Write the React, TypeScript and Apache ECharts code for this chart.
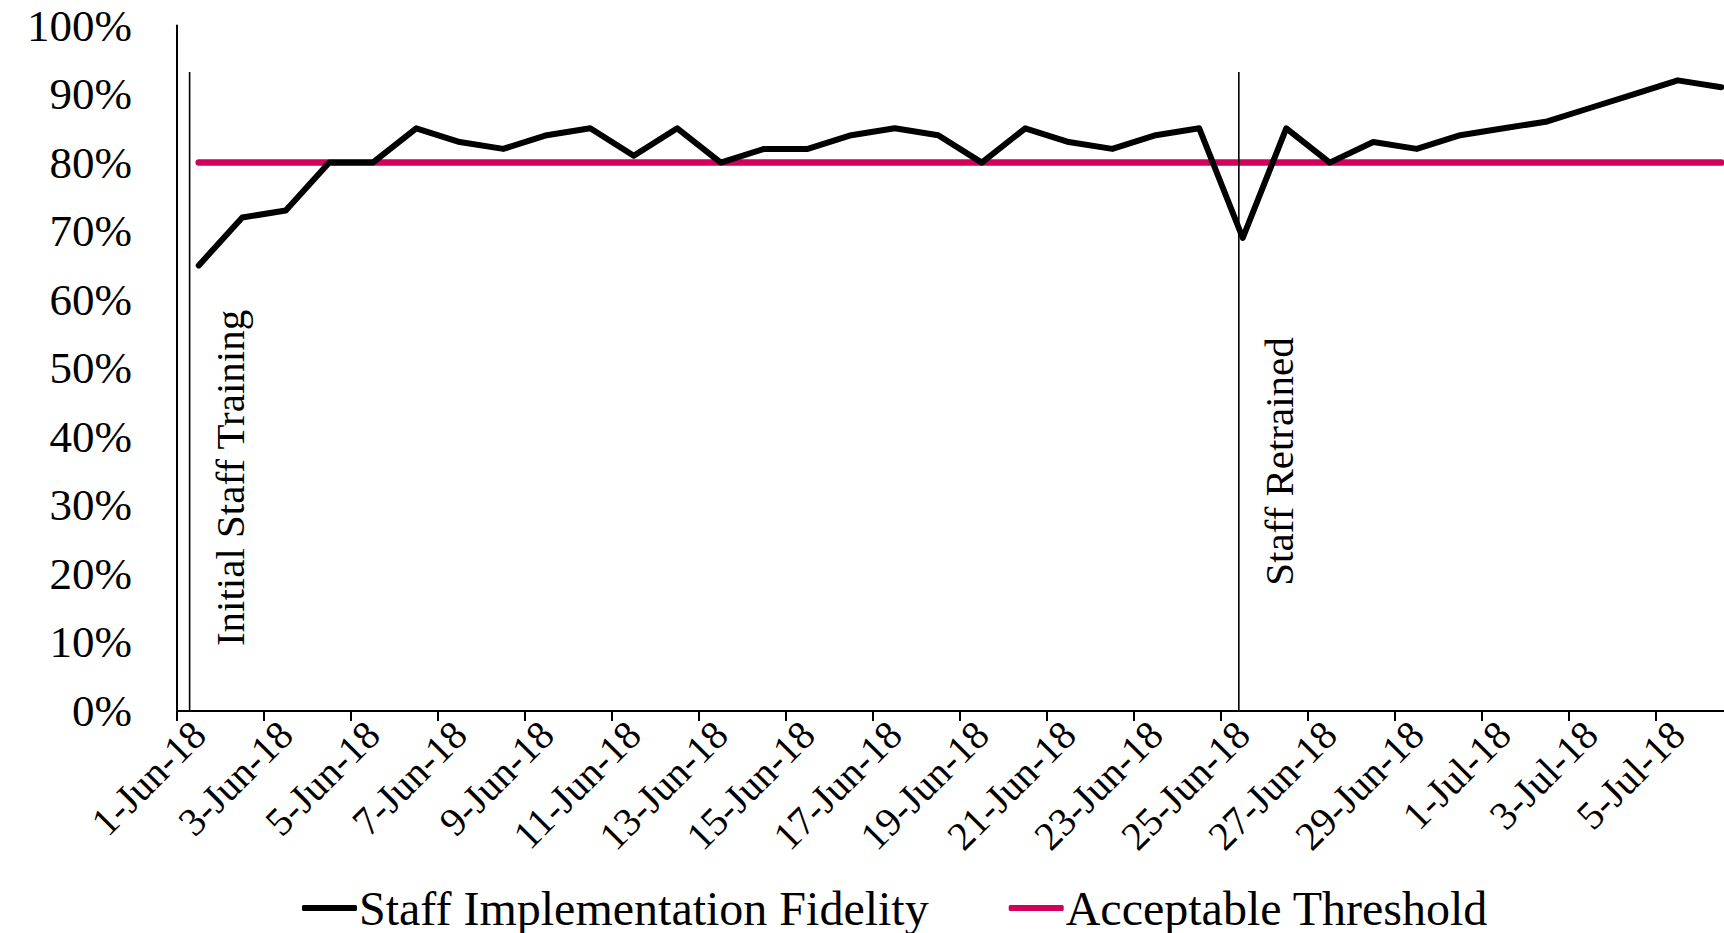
import React, { useEffect, useRef } from "react";
import * as echarts from "echarts";

const dates = [
  "1-Jun-18", "2-Jun-18", "3-Jun-18", "4-Jun-18", "5-Jun-18", "6-Jun-18",
  "7-Jun-18", "8-Jun-18", "9-Jun-18", "10-Jun-18", "11-Jun-18", "12-Jun-18",
  "13-Jun-18", "14-Jun-18", "15-Jun-18", "16-Jun-18", "17-Jun-18", "18-Jun-18",
  "19-Jun-18", "20-Jun-18", "21-Jun-18", "22-Jun-18", "23-Jun-18", "24-Jun-18",
  "25-Jun-18", "26-Jun-18", "27-Jun-18", "28-Jun-18", "29-Jun-18", "30-Jun-18",
  "1-Jul-18", "2-Jul-18", "3-Jul-18", "4-Jul-18", "5-Jul-18", "6-Jul-18",
];

const fidelity = [
  65, 72, 73, 80, 80, 85, 83, 82, 84, 85, 81, 85,
  80, 82, 82, 84, 85, 84, 80, 85, 83, 82, 84, 85,
  69, 85, 80, 83, 82, 84, 85, 86, 88, 90, 92, 91,
];

const threshold = [
  80, 80, 80, 80, 80, 80, 80, 80, 80, 80, 80, 80,
  80, 80, 80, 80, 80, 80, 80, 80, 80, 80, 80, 80,
  80, 80, 80, 80, 80, 80, 80, 80, 80, 80, 80, 80,
];

const seriesNames = ["Staff Implementation Fidelity", "Acceptable Threshold"];

// event markers: day offset on the date axis, top of line (%), label centre (%)
const markers = [
  { label: "Initial Staff Training", day: 0.29, top: 93.2, labelAt: 34.0 },
  { label: "Staff Retrained", day: 24.41, top: 93.2, labelAt: 36.4 },
];

const yMin = 0;
const yMax = 100;
const yStep = 10;

const FONT = "'Liberation Serif', 'Times New Roman', serif";

export default function App() {
  const ref = useRef<HTMLDivElement>(null);

  useEffect(() => {
    if (!ref.current) return;
    const chart = echarts.init(ref.current, null, { renderer: "svg" });
    const option: any = {
      animation: false,
      backgroundColor: "#ffffff",
      textStyle: { fontFamily: FONT, color: "#000" },
      grid: {
        left: 177,
        right: -19,
        top: 25.5,
        bottom: 222,
        containLabel: false,
        outerBoundsMode: "none",
      },
      legend: {
        left: 297,
        top: 879,
        itemWidth: 55,
        itemHeight: 6,
        itemGap: 80,
        icon: "roundRect",
        textStyle: { fontFamily: FONT, fontSize: 48, color: "#000", padding: [0, 0, 0, -3] },
        data: seriesNames,
      },
      xAxis: [
        {
          type: "category",
          data: dates,
          boundaryGap: true,
          axisLine: { show: true, lineStyle: { color: "#000", width: 2 } },
          axisTick: { show: true, interval: 1, length: 10, lineStyle: { color: "#000", width: 2 } },
          axisLabel: {
            interval: 1,
            rotate: 45,
            margin: 17,
            fontFamily: FONT,
            fontSize: 40,
            color: "#000",
          },
          splitLine: { show: false },
        },
        {
          type: "value",
          min: 0,
          max: dates.length,
          show: false,
          gridIndex: 0,
        },
      ],
      yAxis: {
        type: "value",
        min: yMin,
        max: yMax,
        interval: yStep,
        axisLine: { show: true, lineStyle: { color: "#000", width: 2 } },
        axisTick: { show: false },
        splitLine: { show: false },
        axisLabel: {
          formatter: "{value}%",
          margin: 45,
          fontFamily: FONT,
          fontSize: 45,
          lineHeight: 44,
          color: "#000",
        },
      },
      series: [
        {
          name: seriesNames[0],
          type: "line",
          data: fidelity,
          showSymbol: false,
          symbol: "none",
          color: "#000000",
          lineStyle: { color: "#000000", width: 6, cap: "round", join: "round" },
          z: 3,
        },
        {
          name: seriesNames[1],
          type: "line",
          data: threshold,
          showSymbol: false,
          symbol: "none",
          color: "#D1005A",
          lineStyle: { color: "#D1005A", width: 6.5, cap: "round", join: "round" },
          z: 2,
        },
      ],
    };
    chart.setOption(option);

    const y0 = chart.convertToPixel({ yAxisIndex: 0 }, yMin) as number;
    const graphics: any[] = [];
    markers.forEach((m) => {
      const x = chart.convertToPixel({ xAxisIndex: 1 }, m.day) as number;
      const yTop = chart.convertToPixel({ yAxisIndex: 0 }, m.top) as number;
      const yc = chart.convertToPixel({ yAxisIndex: 0 }, m.labelAt) as number;
      graphics.push({
        type: "line",
        shape: { x1: x, y1: y0, x2: x, y2: yTop },
        style: { stroke: "#000", lineWidth: 1.6 },
        z: 10,
      });
      graphics.push({
        type: "text",
        x: x + 20,
        y: yc,
        rotation: Math.PI / 2,
        style: {
          text: m.label,
          fontFamily: FONT,
          fontSize: 41,
          fill: "#000",
          align: "center",
          verticalAlign: "top",
        },
        z: 10,
      });
    });
    chart.setOption({ graphic: graphics });

    return () => {
      chart.dispose();
    };
  }, []);

  return (
    <div
      ref={ref}
      style={{ position: "fixed", left: 0, top: 0, width: 1724, height: 933, background: "#fff" }}
    />
  );
}
